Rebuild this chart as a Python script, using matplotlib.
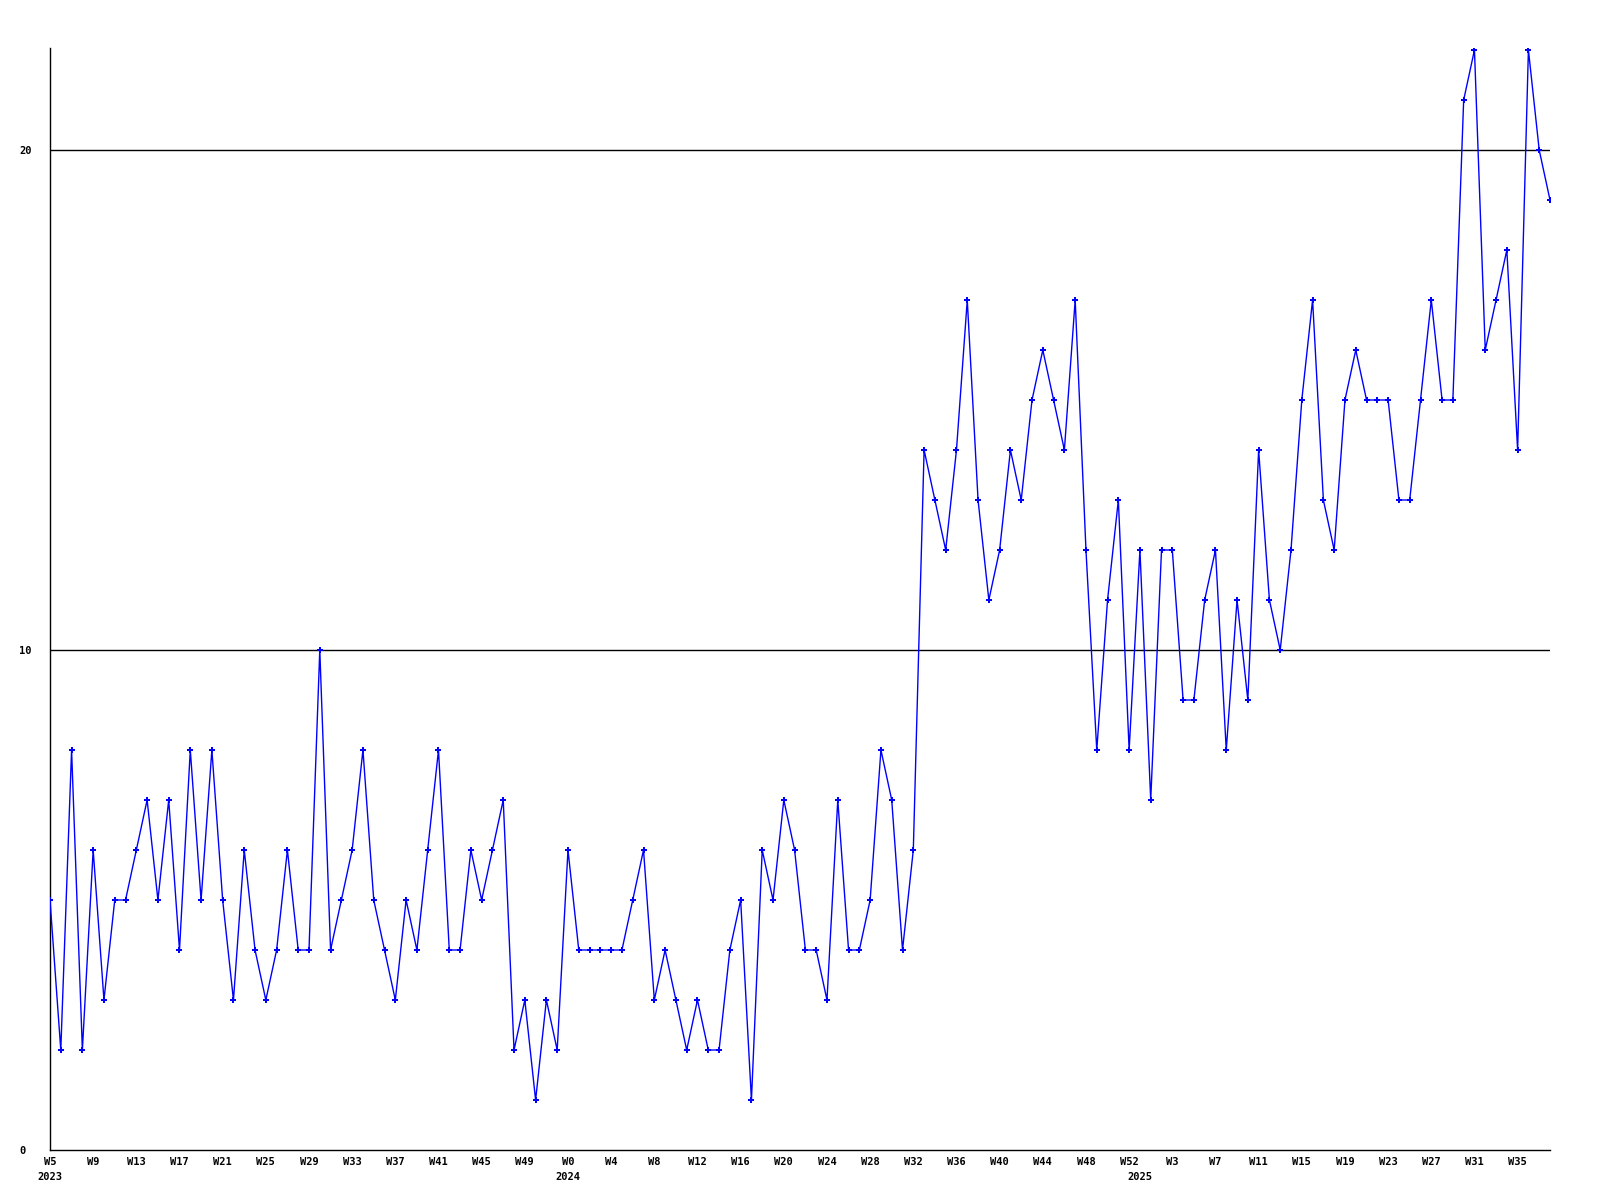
import matplotlib
matplotlib.use('Agg')
import matplotlib.pyplot as plt

# weekly counts, 2023 W5 .. 2025 W38
years = [2023, 2024, 2025]
first_week = [5, 0, 0]
last_week = [52, 52, 38]

counts_2023 = [5, 2, 8, 2, 6, 3, 5, 5, 6, 7,
               5, 7, 4, 8, 5, 8, 5, 3, 6, 4,
               3, 4, 6, 4, 4, 10, 4, 5, 6, 8,
               5, 4, 3, 5, 4, 6, 8, 4, 4, 6,
               5, 6, 7, 2, 3, 1, 3, 2]
counts_2024 = [6, 4, 4, 4, 4, 4, 5, 6, 3, 4,
               3, 2, 3, 2, 2, 4, 5, 1, 6, 5,
               7, 6, 4, 4, 3, 7, 4, 4, 5, 8,
               7, 4, 6, 14, 13, 12, 14, 17, 13, 11,
               12, 14, 13, 15, 16, 15, 14, 17, 12, 8,
               11, 13, 8]
counts_2025 = [12, 7, 12, 12, 9, 9, 11, 12, 8, 11,
               9, 14, 11, 10, 12, 15, 17, 13, 12, 15,
               16, 15, 15, 15, 13, 13, 15, 17, 15, 15,
               21, 22, 16, 17, 18, 14, 22, 20, 19]

y_ticks = [0, 10, 20]

counts = counts_2023 + counts_2024 + counts_2025

week_labels = []
year_start = []
for yr, a, b in zip(years, first_week, last_week):
    year_start.append(len(week_labels))
    week_labels += ['W%d' % w for w in range(a, b + 1)]

x = list(range(len(counts)))

fig = plt.figure(figsize=(16, 12), dpi=100)
ax = fig.add_axes([50 / 1600, 50 / 1200, 1500 / 1600, 1102 / 1200])

for v in y_ticks[1:]:
    ax.axhline(v, color='black', lw=1, zorder=1)

ax.plot(x, counts, color='#0000ff', lw=1, marker='P', ms=4.5,
        markeredgewidth=0, zorder=3)

ax.set_xlim(0, len(counts) - 1)
ax.set_ylim(0, 22.04)

for s in ['top', 'right']:
    ax.spines[s].set_visible(False)
for s in ['left', 'bottom']:
    ax.spines[s].set_color('black')
    ax.spines[s].set_linewidth(1)

font = dict(family='DejaVu Sans Mono', weight='bold', size=7.5)

ax.set_yticks(y_ticks)
ax.set_yticklabels([str(v) for v in y_ticks], ha='left', **font)
ax.tick_params(axis='y', length=0, pad=22)

xt = x[::4]
ax.set_xticks(xt)
ax.set_xticklabels([week_labels[i] for i in xt], **font)
ax.tick_params(axis='x', length=0, pad=5)

for yr, i in zip(years, year_start):
    ax.text(i, -27 / 1102, str(yr), ha='center', va='center',
            transform=ax.get_xaxis_transform(), **font)

fig.savefig('out.png', dpi=100, facecolor='white')
